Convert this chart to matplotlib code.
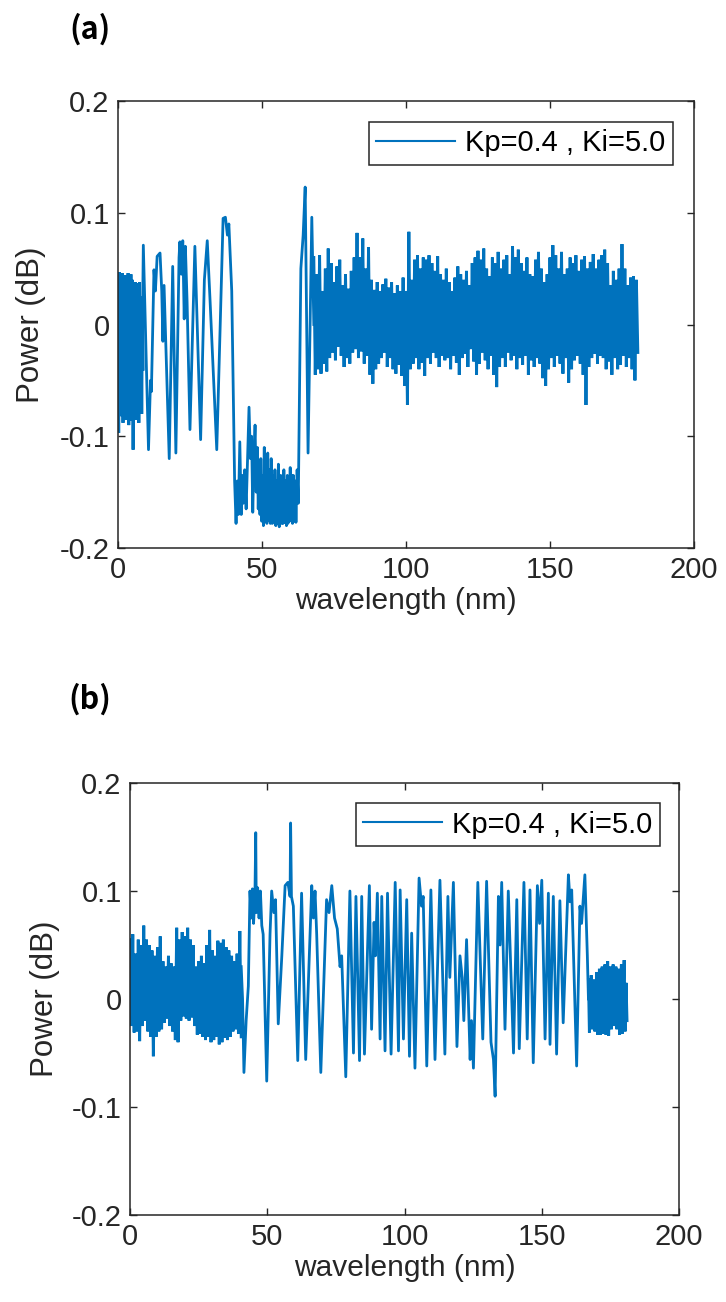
import numpy as np
import matplotlib.pyplot as plt

plt.rcParams['font.family'] = ['Liberation Sans', 'DejaVu Sans']

BLUE = '#0072BD'
DARK = '#262626'
LABEL = 'Kp=0.4 , Ki=5.0'

x_ticks = [0, 50, 100, 150, 200]
x_ticklabels = ['0', '50', '100', '150', '200']
y_ticks = [-0.2, -0.1, 0.0, 0.1, 0.2]
y_ticklabels = ['-0.2', '-0.1', '0', '0.1', '0.2']

# ---- panel (a) ----
# dense noisy start (0-8.5 nm): local max / min of the fast ripple
a_band1_x = [0, 0.5, 1, 1.5, 2, 2.5, 3, 3.5, 4, 4.5, 5, 5.5, 6, 6.5, 7, 7.5, 8, 8.5]
a_band1_hi = [0.010, 0.047, 0.040, 0.046, 0.035, 0.044, 0.038, 0.046, 0.030, 0.045,
              0.040, 0.032, 0.038, 0.037, 0.030, 0.038, 0.025, 0.020]
a_band1_lo = [-0.097, -0.082, -0.075, -0.088, -0.070, -0.085, -0.078, -0.090, -0.072, -0.086,
              -0.112, -0.075, -0.085, -0.068, -0.088, -0.075, -0.080, -0.040]

# oscillating part (8.5-68 nm): peaks and troughs
a_line_x = [8.5, 8.8, 10.6, 11.3, 11.6, 12.5, 13.0, 13.6, 14.6, 15.2, 15.6, 16.0, 17.8, 19.0,
            20.1, 21.2, 21.5, 22.0, 22.5, 23.0, 23.4, 24.0, 25.0, 26.7, 28.7, 30.0, 31.0, 32.0,
            34.3, 35.5, 36.5, 37.3, 38.0, 38.5, 39.5, 40.5, 41.0, 41.4, 41.8, 42.3, 42.8, 43.2,
            43.5, 44.0, 44.5, 45.0, 45.5, 46.0, 46.4, 46.8, 47.2, 47.6, 48.0, 48.4, 48.7, 49.0,
            49.3, 49.6, 49.9, 50.2, 50.5, 50.8, 51.0, 51.3, 51.7, 52.0, 52.3, 52.6, 52.9, 53.2,
            53.6, 53.9, 54.2, 54.5, 54.8, 55.1, 55.4, 55.7, 56.0, 56.3, 56.5, 56.8, 57.0, 57.3,
            57.6, 57.9, 58.2, 58.5, 58.8, 59.0, 59.3, 59.6, 59.8, 60.0, 60.3, 60.6, 60.9, 61.2,
            61.5, 61.8, 62.2, 62.6, 63.5, 64.3, 65.0, 66.0, 67.3, 68.0]
a_line_y = [0.000, 0.071, -0.112, -0.050, -0.060, 0.049, 0.030, 0.061, 0.064, 0.030, -0.015,
            0.035, -0.120, 0.052, -0.115, 0.060, 0.074, 0.045, 0.075, 0.005, 0.070, 0.020,
            -0.094, 0.070, -0.103, 0.040, 0.075, 0.020, -0.112, 0.000, 0.095, 0.096, 0.080,
            0.090, 0.030, -0.140, -0.178, -0.140, -0.170, -0.105, -0.170, -0.135, -0.160,
            -0.130, -0.165, -0.120, -0.074, -0.120, -0.100, -0.168, -0.120, -0.090, -0.150,
            -0.110, -0.165, -0.125, -0.170, -0.120, -0.176, -0.135, -0.180, -0.110, -0.172,
            -0.125, -0.178, -0.115, -0.175, -0.130, -0.178, -0.120, -0.178, -0.135, -0.176,
            -0.130, -0.180, -0.140, -0.178, -0.125, -0.181, -0.140, -0.135, -0.178, -0.145,
            -0.178, -0.130, -0.177, -0.140, -0.180, -0.135, -0.178, -0.140, -0.176, -0.128,
            -0.170, -0.135, -0.178, -0.135, -0.176, -0.140, -0.177, -0.130, -0.160, 0.050,
            0.080, 0.123, -0.115, 0.096, 0.000]

# dense noisy band (68-180 nm): local max / min per nm
a_band2_x = list(range(68, 181))
a_band2_hi = [0.060, 0.045, 0.062, 0.030, 0.050, 0.068, 0.055, 0.038, 0.052, 0.058,
              0.035, 0.045, 0.032, 0.048, 0.060, 0.082, 0.060, 0.077, 0.050, 0.069,
              0.040, 0.031, 0.038, 0.030, 0.036, 0.041, 0.033, 0.038, 0.028, 0.035,
              0.030, 0.042, 0.030, 0.083, 0.040, 0.058, 0.062, 0.050, 0.060, 0.058,
              0.062, 0.055, 0.048, 0.061, 0.045, 0.040, 0.050, 0.038, 0.030, 0.042,
              0.052, 0.045, 0.040, 0.048, 0.035, 0.055, 0.060, 0.066, 0.058, 0.068,
              0.050, 0.043, 0.060, 0.055, 0.065, 0.050, 0.058, 0.062, 0.045, 0.070,
              0.060, 0.067, 0.055, 0.048, 0.060, 0.045, 0.043, 0.058, 0.065, 0.050,
              0.038, 0.045, 0.060, 0.071, 0.062, 0.050, 0.065, 0.045, 0.050, 0.060,
              0.055, 0.062, 0.048, 0.058, 0.061, 0.050, 0.056, 0.063, 0.050, 0.058,
              0.062, 0.067, 0.055, 0.035, 0.048, 0.040, 0.050, 0.072, 0.050, 0.035,
              0.042, 0.043, 0.040]
a_band2_lo = [-0.045, -0.040, -0.044, -0.035, -0.042, -0.030, -0.025, -0.032, -0.020, -0.028,
              -0.038, -0.030, -0.035, -0.025, -0.022, -0.030, -0.024, -0.035, -0.028, -0.045,
              -0.053, -0.040, -0.035, -0.030, -0.025, -0.038, -0.030, -0.040, -0.044, -0.036,
              -0.046, -0.055, -0.072, -0.040, -0.035, -0.030, -0.040, -0.034, -0.046, -0.030,
              -0.035, -0.025, -0.030, -0.038, -0.028, -0.032, -0.030, -0.040, -0.028, -0.034,
              -0.045, -0.030, -0.026, -0.038, -0.022, -0.033, -0.045, -0.035, -0.025, -0.032,
              -0.040, -0.028, -0.045, -0.056, -0.038, -0.030, -0.038, -0.025, -0.032, -0.028,
              -0.040, -0.030, -0.036, -0.028, -0.045, -0.032, -0.038, -0.030, -0.035, -0.048,
              -0.055, -0.040, -0.030, -0.038, -0.028, -0.035, -0.044, -0.030, -0.052, -0.040,
              -0.032, -0.028, -0.035, -0.045, -0.072, -0.038, -0.030, -0.026, -0.035, -0.028,
              -0.030, -0.040, -0.033, -0.045, -0.030, -0.040, -0.036, -0.028, -0.038, -0.030,
              -0.040, -0.050, -0.025]

# ---- panel (b) ----
b_band1_x = list(range(0, 41))
b_band1_hi = [0.055, 0.060, 0.042, 0.055, 0.050, 0.068, 0.055, 0.050, 0.045, 0.040,
              0.048, 0.058, 0.035, 0.030, 0.040, 0.033, 0.030, 0.066, 0.055, 0.062,
              0.058, 0.066, 0.055, 0.050, 0.030, 0.035, 0.040, 0.033, 0.050, 0.064,
              0.045, 0.040, 0.054, 0.052, 0.055, 0.048, 0.045, 0.040, 0.035, 0.042,
              0.063]
b_band1_lo = [-0.025, -0.031, -0.030, -0.039, -0.025, -0.020, -0.030, -0.035, -0.053, -0.035,
              -0.030, -0.028, -0.022, -0.018, -0.025, -0.030, -0.038, -0.040, -0.020, -0.016,
              -0.018, -0.020, -0.017, -0.025, -0.033, -0.032, -0.035, -0.038, -0.035, -0.040,
              -0.038, -0.035, -0.042, -0.040, -0.036, -0.038, -0.035, -0.030, -0.028, -0.032,
              -0.035]

b_line_x = [40.5, 41.0, 41.5, 42.3, 43.1, 43.7, 44.2, 44.6, 45.0, 45.5, 45.8, 46.0, 46.5, 47.0,
            47.5, 48.0, 48.5, 49.8, 51.0, 51.6, 52.4, 53.0, 54.0, 55.3, 56.5, 57.5, 58.3, 58.5,
            58.8, 59.5, 61.1, 62.5, 64.0, 66.2, 66.8, 67.4, 68.0, 69.5, 71.6, 72.5, 73.5, 74.5,
            75.5, 76.5, 77.1, 78.6, 80.1, 81.4, 82.3, 83.6, 84.4, 85.4, 87.2, 88.0, 88.9, 89.4,
            90.1, 91.1, 91.7, 92.9, 93.8, 95.1, 96.6, 97.8, 98.4, 99.6, 100.8, 101.8, 102.6,
            103.8, 105.3, 106.2, 106.8, 108.1, 109.6, 111.1, 112.9, 114.7, 115.8, 116.5, 117.8,
            119.1, 120.2, 121.0, 121.6, 122.6, 123.9, 124.4, 125.1, 126.7, 128.5, 129.9, 131.5,
            132.4, 133.0, 134.2, 134.8, 135.4, 136.6, 137.8, 139.7, 140.9, 141.8, 143.5, 144.7,
            145.7, 146.9, 148.4, 149.2, 150.0, 151.2, 152.4, 153.0, 154.2, 155.4, 156.6, 157.8,
            159.7, 160.3, 160.9, 162.7, 163.9, 164.5, 165.7, 166.6, 167.0]
b_line_y = [0.030, 0.000, -0.068, -0.020, 0.012, 0.100, 0.075, 0.102, 0.070, 0.095, 0.154,
            0.080, 0.103, 0.075, 0.100, 0.068, 0.060, -0.076, 0.060, 0.100, 0.080, 0.092,
            -0.023, 0.040, 0.105, 0.108, 0.095, 0.163, 0.095, 0.086, -0.057, 0.098, -0.056,
            0.105, 0.075, 0.100, 0.060, -0.068, 0.092, 0.080, 0.105, 0.075, 0.065, 0.030,
            0.040, -0.072, 0.100, -0.050, 0.095, -0.057, 0.095, -0.051, 0.105, -0.028, 0.071,
            0.040, 0.098, -0.037, 0.095, -0.048, 0.098, -0.051, 0.108, -0.048, 0.101, -0.037,
            0.092, -0.053, 0.061, -0.064, 0.112, 0.086, 0.095, -0.062, 0.101, -0.056, 0.110,
            -0.051, 0.095, 0.020, 0.108, -0.044, 0.040, 0.020, -0.020, 0.055, -0.056, -0.020,
            -0.064, 0.108, -0.037, 0.109, -0.040, -0.056, -0.090, 0.095, 0.050, 0.108, -0.028,
            0.100, -0.050, 0.092, -0.046, 0.108, -0.037, 0.101, -0.059, 0.105, 0.070, 0.110,
            -0.037, 0.098, -0.042, 0.095, -0.051, 0.091, -0.022, 0.115, 0.090, 0.101, -0.062,
            0.086, 0.070, 0.115, 0.040, 0.000]

b_band2_x = [167, 168, 169, 170, 171, 172, 173, 174, 175, 176, 177, 178, 179, 180, 180.7]
b_band2_hi = [0.018, 0.022, 0.018, 0.025, 0.028, 0.030, 0.032, 0.035, 0.030, 0.032,
              0.030, 0.028, 0.032, 0.036, 0.015]
b_band2_lo = [-0.031, -0.028, -0.030, -0.033, -0.033, -0.032, -0.033, -0.034, -0.028,
              -0.025, -0.028, -0.033, -0.032, -0.030, -0.020]


def ripple(ax, xs, hi, lo, lw):
    # fast ripple: the trace swings from each local max to the local min half a step later
    xs = np.asarray(xs, float)
    step = np.diff(xs).min() / 2
    px = np.column_stack([xs, xs + step]).ravel()
    py = np.column_stack([hi, lo]).ravel()
    ax.plot(px, py, color=BLUE, lw=lw, solid_joinstyle='miter')


def style_axes(ax):
    ax.set_xlim(0, 200)
    ax.set_ylim(-0.2, 0.2)
    ax.set_xticks(x_ticks)
    ax.set_xticklabels(x_ticklabels)
    ax.set_yticks(y_ticks)
    ax.set_yticklabels(y_ticklabels)
    ax.tick_params(direction='in', length=5, width=1, colors=DARK, labelsize=21,
                   top=True, right=True, pad=6)
    for s in ax.spines.values():
        s.set_color(DARK)
        s.set_linewidth(1.1)
    ax.set_xlabel('wavelength (nm)', fontsize=21.5, color=DARK, labelpad=2)
    ax.set_ylabel('Power (dB)', fontsize=22.5, color=DARK)


fig = plt.figure(figsize=(7.26, 13.02), dpi=100)
ax_a = fig.add_axes([0.1625, 0.5791, 0.7934, 0.3433])
ax_b = fig.add_axes([0.1791, 0.0668, 0.7562, 0.3318])

lw = 2.0
rw = 2.1
ripple(ax_a, a_band1_x, a_band1_hi, a_band1_lo, rw)
ripple(ax_a, a_band2_x, a_band2_hi, a_band2_lo, rw)
ax_a.plot(a_line_x, a_line_y, color=BLUE, lw=lw, label=LABEL)

ripple(ax_b, b_band1_x, b_band1_hi, b_band1_lo, rw)
ripple(ax_b, b_band2_x, b_band2_hi, b_band2_lo, rw)
ax_b.plot(b_line_x, b_line_y, color=BLUE, lw=lw, label=LABEL)

style_axes(ax_a)
style_axes(ax_b)
ax_a.yaxis.set_label_coords(-0.125, 0.5)
ax_b.yaxis.set_label_coords(-0.128, 0.5)

for ax, anchor in [(ax_a, (0.9635, 0.953)), (ax_b, (0.965, 0.953))]:
    leg = ax.legend(loc='upper right', bbox_to_anchor=anchor, borderaxespad=0,
                    fontsize=21, frameon=True, fancybox=False, framealpha=1,
                    handlelength=2.7, handletextpad=0.35, borderpad=0.25)
    leg.get_frame().set_edgecolor(DARK)
    leg.get_frame().set_linewidth(1.1)
    for h in leg.get_lines():
        h.set_linewidth(1.5)

fig.text(90 / 726, 1 - 29 / 1302, '(a)', fontsize=22, fontweight='bold',
         family=['Noto Sans CJK JP', 'DejaVu Sans'], ha='center', va='center')
fig.text(90 / 726, 1 - 699 / 1302, '(b)', fontsize=22, fontweight='bold',
         family=['Noto Sans CJK JP', 'DejaVu Sans'], ha='center', va='center')

fig.savefig('out.png', dpi=100)
